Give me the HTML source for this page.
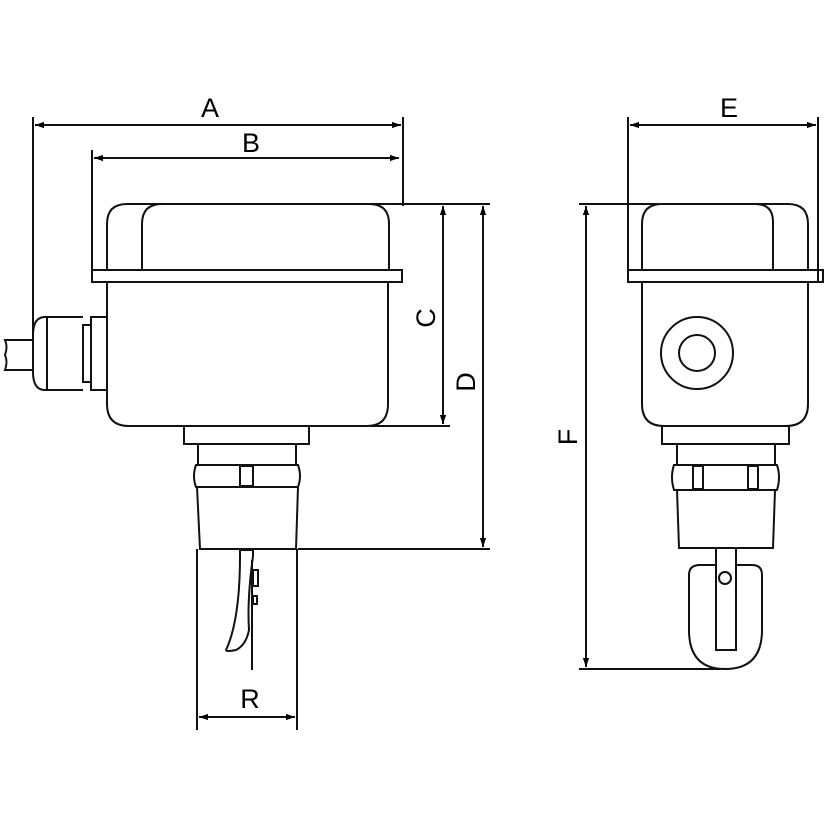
<!DOCTYPE html>
<html><head><style>html,body{margin:0;padding:0;background:#fff}</style></head><body>
<svg width="825" height="825" viewBox="0 0 825 825" xmlns="http://www.w3.org/2000/svg">
<defs>
<marker id="ar" viewBox="0 0 10 10" refX="10" refY="5" markerWidth="9" markerHeight="9" orient="auto-start-reverse" markerUnits="userSpaceOnUse"><path d="M0,1.5 L10,5 L0,8.5 Z" fill="#000"/></marker>
</defs>
<g fill="none" stroke="#111" stroke-width="2">
<!-- dimension lines left -->
<line x1="33" y1="117" x2="33" y2="340"/>
<line x1="403" y1="117" x2="403" y2="206"/>
<line x1="35" y1="125" x2="401" y2="125" marker-start="url(#ar)" marker-end="url(#ar)"/>
<line x1="92" y1="150" x2="92" y2="270"/>
<line x1="94" y1="158" x2="399" y2="158" marker-start="url(#ar)" marker-end="url(#ar)"/>
<line x1="370" y1="204" x2="490" y2="204"/>
<line x1="370" y1="426" x2="450" y2="426"/>
<line x1="443" y1="206" x2="443" y2="424" marker-start="url(#ar)" marker-end="url(#ar)"/>
<line x1="298" y1="549" x2="490" y2="549"/>
<line x1="483" y1="206" x2="483" y2="547" marker-start="url(#ar)" marker-end="url(#ar)"/>
<line x1="197" y1="549" x2="197" y2="730"/>
<line x1="297" y1="549" x2="297" y2="730"/>
<line x1="199" y1="717" x2="295" y2="717" marker-start="url(#ar)" marker-end="url(#ar)"/>
<!-- left body -->
<path d="M107,270 V224 Q107,204 127,204 H369 Q389,204 389,224 V270"/>
<path d="M142,270 V224 Q142,204 162,204"/>
<rect x="92" y="270" width="310" height="12"/>
<path d="M107,282 V404 Q107,426 129,426 H367 Q388,426 388,404 V282"/>
<rect x="91" y="317" width="16" height="73"/>
<rect x="83" y="325" width="8" height="57"/>
<path d="M83,317 H45 Q33,317 33,335 V372 Q33,390 45,390 H83"/>
<line x1="47" y1="318" x2="47" y2="390"/>
<path d="M33,340 H5 Q8,347 5,355 Q8,362 5,370 H33"/>
<rect x="184" y="426" width="125" height="18"/>
<rect x="198" y="444" width="98" height="21"/>
<path d="M196,465 H298 Q302,476 298,487 H196 Q192,476 196,465 Z"/>
<rect x="240" y="466" width="13" height="20"/>
<path d="M197,487 L200,549 H296 L298,487"/>
<!-- paddle left -->
<path d="M240,550 H253 V556 Q247,600 249,630 Q246,645 236,650 Q226,652 226,650 Q240,620 240,556 Z"/>
<line x1="252" y1="560" x2="252" y2="670"/>
<rect x="253" y="570" width="5" height="16"/>
<rect x="253" y="596" width="4" height="8"/>
<!-- right view dims -->
<line x1="628" y1="117" x2="628" y2="282"/>
<line x1="818" y1="117" x2="818" y2="282"/>
<line x1="630" y1="125" x2="816" y2="125" marker-start="url(#ar)" marker-end="url(#ar)"/>
<line x1="579" y1="204" x2="660" y2="204"/>
<line x1="579" y1="669" x2="720" y2="669"/>
<line x1="586" y1="206" x2="586" y2="667" marker-start="url(#ar)" marker-end="url(#ar)"/>
<!-- right body -->
<path d="M642,270 V224 Q642,204 662,204 H788 Q808,204 808,224 V270"/>
<path d="M773,270 V222 Q773,204 755,204"/>
<rect x="628" y="270" width="195" height="12"/>
<path d="M642,282 V404 Q642,426 664,426 H786 Q808,426 808,404 V282"/>
<circle cx="697" cy="353" r="36"/>
<circle cx="697" cy="353" r="18"/>
<rect x="662" y="426" width="127" height="18"/>
<rect x="677" y="444" width="98" height="21"/>
<path d="M674,465 H777 Q781,477 777,490 H674 Q670,477 674,465 Z"/>
<rect x="693" y="466" width="10" height="23"/>
<rect x="748" y="466" width="10" height="23"/>
<path d="M677,490 L679,548 H773 L775,490"/>
<path d="M700,565 H752 Q762,565 762,575 V630 Q762,669 725,669 Q689,669 689,630 V575 Q689,565 700,565 Z" fill="#fff"/>
<rect x="716" y="548" width="20" height="102" fill="#fff"/>
<circle cx="725" cy="578" r="6"/>
</g>
<g font-family="Liberation Sans, sans-serif" font-size="27" fill="#000" text-anchor="middle">
<text x="210" y="117">A</text>
<text x="251" y="152">B</text>
<text x="729" y="117">E</text>
<text x="250" y="708">R</text>
<text transform="translate(435,318) rotate(-90)">C</text>
<text transform="translate(475,382) rotate(-90)">D</text>
<text transform="translate(577,437) rotate(-90)">F</text>
</g>
</svg>
</body></html>
